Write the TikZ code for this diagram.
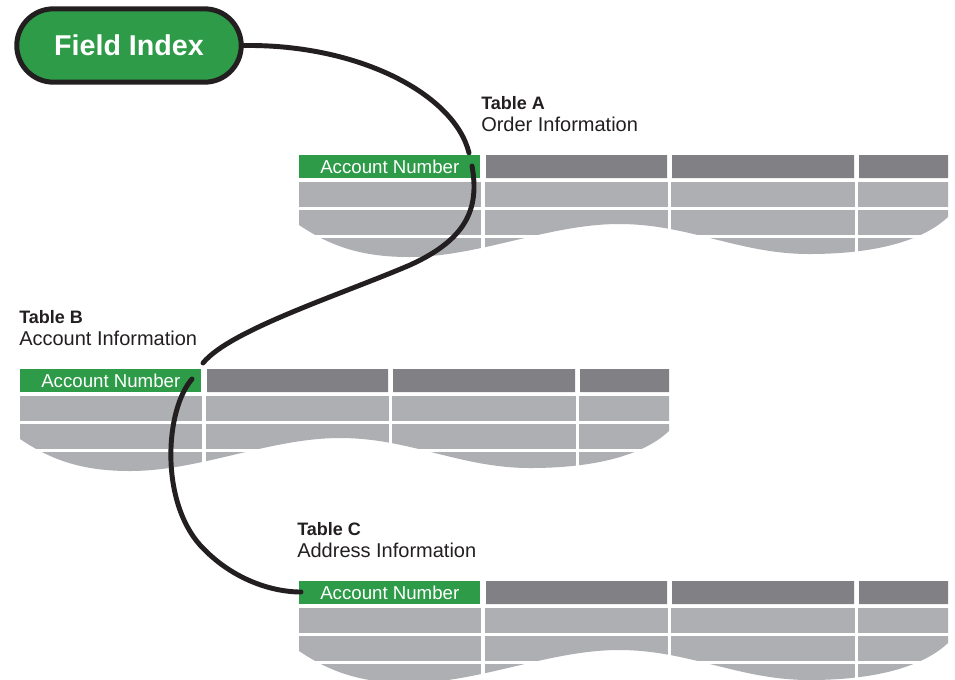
\documentclass[tikz,border=0pt]{standalone}
\usepackage{fontspec}
\setmainfont{Liberation Sans}
\usetikzlibrary{shapes.misc}
\definecolor{hdrgreen}{RGB}{46,155,72}
\definecolor{hdrgray}{RGB}{128,128,133}
\definecolor{bodygray}{RGB}{174,175,179}
\definecolor{ink}{RGB}{35,31,32}
\tikzset{
  conn/.style={draw=ink, line width=3.7pt, line cap=round},
  accthdr/.style={fill=hdrgreen, text=white, minimum width=135.75pt, minimum height=17.25pt, inner sep=0pt, font=\fontsize{14}{16}\selectfont, anchor=north west},
  tbltitle/.style={font=\bfseries\fontsize{13.5}{16}\selectfont, text=ink, anchor=base west, inner sep=0pt},
  tblsub/.style={font=\fontsize{15}{18}\selectfont, text=ink, anchor=base west, inner sep=0pt},
  gridline/.style={draw=white, line width=2.25pt},
  pill/.style={draw=ink, line width=3.75pt, fill=hdrgreen, rounded rectangle, minimum width=175pt, minimum height=55pt, text=white, font=\bfseries\fontsize{21.5}{24}\selectfont},
}
% #1 x0, #2 y0, #3 name, #4 title, #5 subtitle, #6 label x offset
\newcommand\dbtable[6]{%
  \begin{scope}[shift={(#1,#2)}]
    \fill[bodygray] (0,27) -- (649,27) -- (649,62)
      .. controls (630,80) and (590,99) .. (510,99)
      .. controls (440,99) and (390,69) .. (320,69)
      .. controls (250,69) and (180,102) .. (110,102)
      .. controls (60,102) and (30,90) .. (0,70) -- cycle;
    \draw[gridline] (-2,53.5) -- (651,53.5) (-2,81.5) -- (651,81.5);
    \draw[gridline, line width=2.8pt] (184,25) -- (184,112) (370.5,25) -- (370.5,112) (557.5,25) -- (557.5,112);
    \fill[hdrgray] (187,0) rectangle (368,23) (373,0) rectangle (555,23) (560,0) rectangle (649,23);
    \node[accthdr] (#3) at (0,0) {Account Number};
    \node[tbltitle] (#3t) at (#6,-46) {#4};
    \node[tblsub] (#3s) at (#6,-24) {#5};
  \end{scope}}
\begin{document}
\begin{tikzpicture}[x=0.75pt, y=-0.75pt]
  \useasboundingbox (0,0) rectangle (955,679);
  \fill[white] (0,0) rectangle (955,679);
  \node[pill] (field) at (129,45.5) {Field Index};
  \coordinate (c1end) at (469,153);
  \coordinate (c2start) at (472,166);
  \coordinate (c2end) at (203,363);
  \coordinate (c3start) at (192,379);
  \coordinate (c3end) at (301,592);
  \draw[conn] (field.east) .. controls (360,44) and (455,95) .. (c1end);
  \dbtable{299}{155}{acctA}{Table A}{Order Information}{182}
  \dbtable{20}{369}{acctB}{Table B}{Account Information}{-1}
  \dbtable{299}{581}{acctC}{Table C}{Address Information}{-2}
  \draw[conn] (c2start) .. controls (480,210) and (465,240) .. (410,265)
    .. controls (340,295) and (230,330) .. (c2end);
  \draw[conn] (c3start) .. controls (165,410) and (160,500) .. (200,545)
    .. controls (230,578) and (270,592) .. (c3end);
\end{tikzpicture}
\end{document}
